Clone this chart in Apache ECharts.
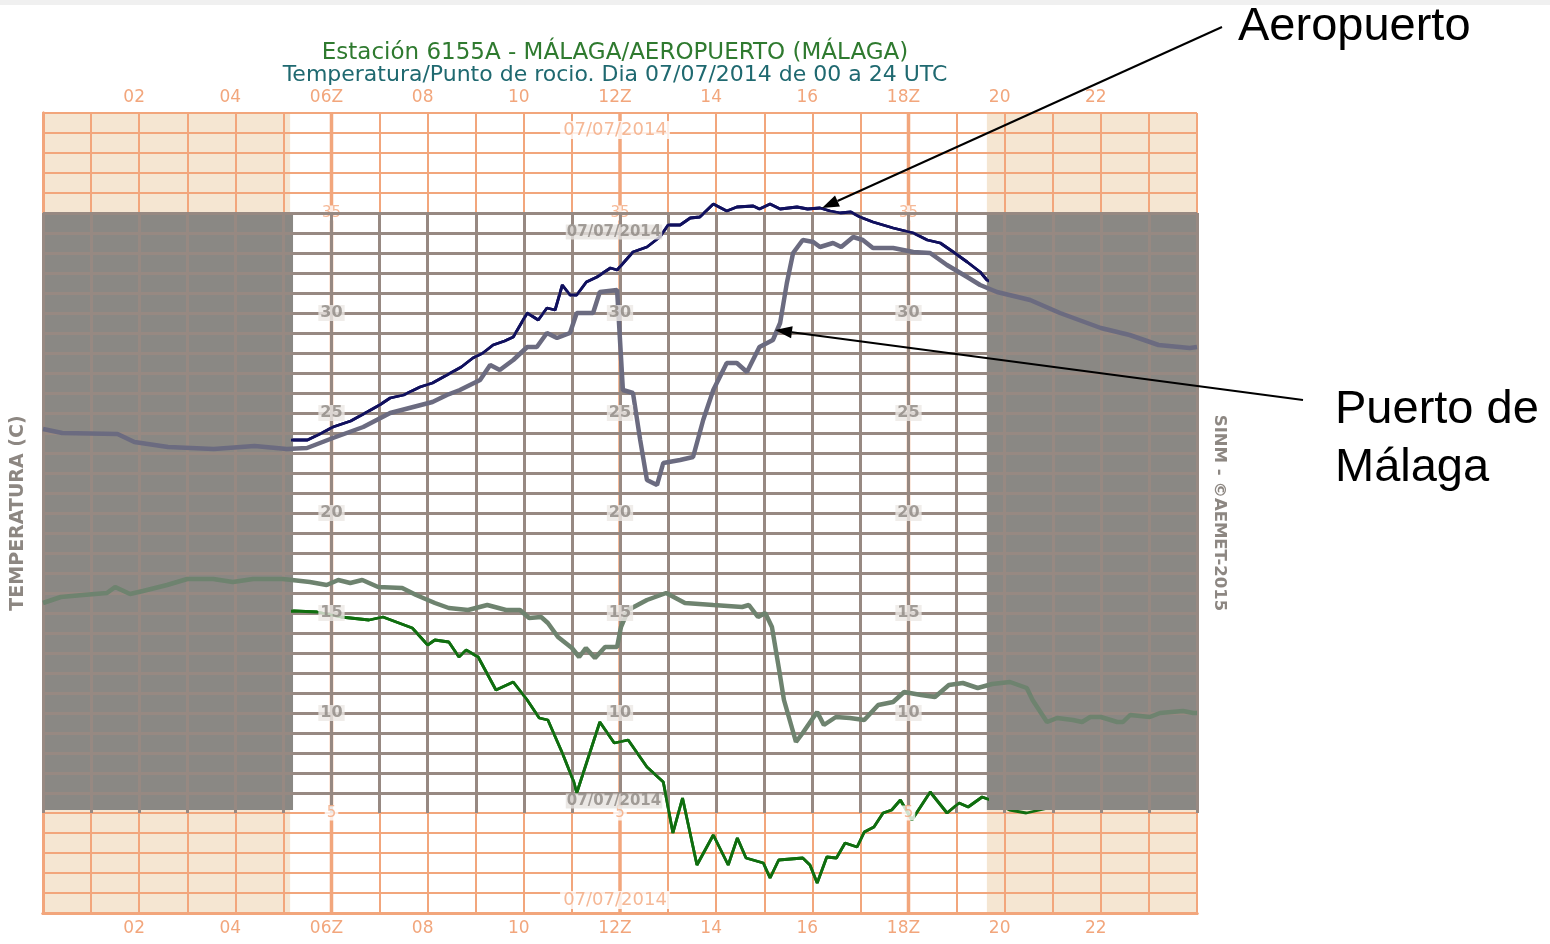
<!DOCTYPE html>
<html>
<head>
<meta charset="utf-8">
<title>Málaga 07/07/2014</title>
<script src="https://cdn.jsdelivr.net/npm/echarts@6/dist/echarts.min.js"></script>
<style>
html, body { margin: 0; padding: 0; background: #fff; }
#chart { width: 1550px; height: 944px; }
</style>
</head>
<body>
<div id="chart"></div>
<script>
// x axis: hours UTC, y axis: degrees C
const hourTicks = [2, 4, 6, 8, 10, 12, 14, 16, 18, 20, 22]
const hourLabels = ['02', '04', '06Z', '08', '10', '12Z', '14', '16', '18Z', '20', '22']
const synopHours = [6, 12, 18]
const nightSpans = [[0, 5.14], [19.63, 24]]
const overlayNight = [[0, 5.2], [19.63, 24]]
const overlayBottom = 5.15
const orangeTopTicks = [35]
const orangeBottomTicks = [5]
const grayTicks = [30, 25, 20, 15, 10]
const dateLabel = '07/07/2014'

// Aeropuerto (6155A)
const aeroTemp = [[0,24.2],[0.5,24.1],[1,24.0],[1.5,23.9],[2,23.8],[2.5,23.7],[3,23.6],[3.5,23.6],[4,23.5],[4.5,23.6],[5,23.6],
  [5.2,23.65],[5.5,23.65],[5.8,24.0],[6.03,24.3],[6.4,24.6],[6.74,25.05],[7.0,25.4],[7.22,25.75],[7.5,25.9],[7.84,26.3],
  [8.1,26.5],[8.4,26.9],[8.7,27.3],[8.94,27.75],[9.15,28.0],[9.36,28.4],[9.6,28.6],[9.78,28.8],[10.07,30.0],[10.3,29.65],
  [10.48,30.25],[10.65,30.15],[10.8,31.4],[10.96,30.9],[11.1,30.9],[11.3,31.55],[11.52,31.8],[11.8,32.25],[11.94,32.15],
  [12.27,33.05],[12.56,33.3],[12.83,33.8],[13.0,34.4],[13.25,34.4],[13.46,34.75],[13.66,34.8],[13.94,35.45],[14.22,35.1],
  [14.43,35.3],[14.77,35.35],[14.9,35.2],[15.12,35.45],[15.33,35.2],[15.68,35.3],[15.9,35.2],[16.16,35.25],[16.37,35.1],
  [16.58,35.0],[16.8,35.05],[16.99,34.8],[17.26,34.55],[17.68,34.25],[18.1,34.0],[18.39,33.65],[18.66,33.5],[18.93,33.05],
  [19.22,32.55],[19.49,32.05],[19.63,31.65],[20,31.2],[20.5,30.8],[21,30.2],[21.5,29.7],[22,29.3],[22.5,29.0],[23,28.6],
  [23.5,28.3],[24,28.2]]
const aeroDew = [[0,14.05],[0.5,14.2],[1,14.4],[1.5,14.5],[2,14.6],[2.5,14.7],[3,14.8],[3.5,14.85],[4,14.9],[4.5,15.0],[5,15.05],
  [5.22,15.1],[5.7,15.05],[6.2,14.8],[6.78,14.65],[7.07,14.8],[7.68,14.25],[8.0,13.4],[8.15,13.65],[8.44,13.55],[8.65,12.8],
  [8.8,13.15],[9.05,12.8],[9.42,11.15],[9.78,11.55],[10.07,10.65],[10.32,9.75],[10.5,9.65],[10.8,8.0],[11.04,6.55],[11.1,6.0],
  [11.58,9.55],[11.88,8.5],[12.17,8.65],[12.56,7.3],[12.9,6.55],[13.1,4.0],[13.3,5.75],[13.6,2.4],[13.94,3.9],[14.25,2.4],
  [14.44,3.75],[14.62,2.75],[14.98,2.5],[15.12,1.75],[15.3,2.65],[15.8,2.75],[15.95,2.4],[16.1,1.5],[16.3,2.8],[16.5,2.75],
  [16.68,3.5],[16.93,3.3],[17.08,4.05],[17.28,4.3],[17.47,5.0],[17.65,5.15],[17.83,5.65],[18.07,4.65],[18.45,6.05],[18.8,5.0],
  [19.05,5.5],[19.24,5.3],[19.53,5.8],[19.75,5.6],[20.1,5.15],[20.45,5.0],[20.73,5.15],[21.2,5.4],[21.8,5.6],[22.4,5.5],
  [23,5.8],[23.6,5.9],[24,6.0]]

// Puerto de Málaga
const portTemp = [[0,24.2],[0.4,24.0],[1.55,23.95],[1.9,23.55],[2.6,23.3],[3.55,23.2],[4.4,23.35],[5.07,23.2],[5.49,23.25],
  [6.03,23.75],[6.66,24.3],[7.22,25.0],[7.7,25.3],[8.1,25.55],[8.4,25.9],[8.67,26.15],[9.09,26.65],[9.3,27.4],[9.5,27.15],
  [9.78,27.65],[10.07,28.3],[10.27,28.3],[10.48,29.0],[10.69,28.75],[10.96,29.0],[11.1,30.0],[11.44,30.0],[11.58,31.05],
  [11.94,31.15],[12.06,26.15],[12.27,26.0],[12.42,23.65],[12.56,21.65],[12.77,21.4],[12.9,22.5],[13.25,22.65],[13.52,22.8],
  [13.73,24.65],[13.94,26.15],[14.22,27.5],[14.43,27.5],[14.64,27.05],[14.9,28.3],[15.18,28.65],[15.33,29.5],[15.47,31.5],
  [15.6,33.0],[15.8,33.65],[16.02,33.55],[16.16,33.3],[16.43,33.5],[16.6,33.3],[16.85,33.8],[17.05,33.65],[17.26,33.25],
  [17.68,33.25],[18.1,33.05],[18.45,33.0],[18.8,32.4],[19.22,31.8],[19.49,31.4],[19.84,31.05],[20.53,30.65],[21.15,30.0],
  [22.0,29.25],[22.6,28.9],[23.2,28.4],[23.85,28.25],[24,28.3]]
const portDew = [[0,15.5],[0.37,15.8],[0.83,15.9],[1.33,16.0],[1.5,16.3],[1.81,15.95],[2.08,16.1],[2.58,16.4],[3.0,16.7],
  [3.54,16.7],[3.95,16.55],[4.37,16.7],[4.99,16.7],[5.55,16.55],[5.9,16.4],[6.14,16.65],[6.39,16.5],[6.64,16.65],[6.97,16.3],
  [7.47,16.25],[7.76,15.9],[8.15,15.5],[8.44,15.25],[8.84,15.15],[9.24,15.4],[9.63,15.15],[9.92,15.15],[10.11,14.75],
  [10.36,14.8],[10.5,14.5],[10.71,13.8],[11.0,13.25],[11.15,12.8],[11.29,13.25],[11.48,12.75],[11.69,13.3],[11.94,13.3],
  [12.02,14.3],[12.17,15.15],[12.56,15.65],[12.96,16.0],[13.35,15.5],[13.94,15.4],[14.54,15.3],[14.68,15.4],[14.87,14.8],
  [15.02,15.0],[15.16,14.3],[15.31,12.15],[15.41,10.65],[15.66,8.55],[15.8,9.0],[16.1,10.05],[16.24,9.4],[16.49,9.8],
  [16.78,9.75],[17.08,9.65],[17.37,10.4],[17.68,10.55],[17.91,11.05],[18.26,10.9],[18.55,10.8],[18.84,11.4],[19.13,11.5],
  [19.44,11.25],[19.74,11.45],[20.11,11.55],[20.46,11.25],[20.58,10.65],[20.88,9.55],[21.09,9.75],[21.42,9.65],[21.61,9.55],
  [21.78,9.8],[22.0,9.8],[22.34,9.55],[22.46,9.55],[22.61,9.9],[23.02,9.8],[23.23,10.0],[23.71,10.1],[23.92,10.0],[24,10.0]]

const ORANGE = '#f2a67c', BEIGE = '#f5e6d2', GRAYLINE = '#978982', GRAYBLOCK = '#8a8884', GRAYTEXT = '#8d8782'
const FONT = '"DejaVu Sans", sans-serif'

const chart = echarts.init(document.getElementById('chart'))

function arrow(x1, y1, x2, y2) {
  const dx = x2 - x1, dy = y2 - y1, len = Math.hypot(dx, dy)
  const ux = dx / len, uy = dy / len, L = 17, W = 6
  const bx = x2 - ux * L, by = y2 - uy * L
  return [
    { type: 'line', shape: { x1, y1, x2: bx, y2: by }, style: { stroke: '#000', lineWidth: 2 }, z: 100 },
    { type: 'polygon', shape: { points: [[x2, y2], [bx - uy * W, by + ux * W], [bx + uy * W, by - ux * W]] },
      style: { fill: '#000' }, z: 100 }
  ]
}

const hourLabel = v => { const i = hourTicks.indexOf(v); return i >= 0 ? hourLabels[i] : '' }
const lineSeries = (name, data, color, width, xi, yi, z) => ({
  name, type: 'line', data, xAxisIndex: xi, yAxisIndex: yi, z, showSymbol: false, symbol: 'none',
  clip: true, lineStyle: { color, width }, silent: true
})
const orangeTickSeries = (ticks, z) => ({
  type: 'scatter', xAxisIndex: 0, yAxisIndex: 0, z, silent: true, symbolSize: 1,
  itemStyle: { color: 'transparent' },
  data: synopHours.flatMap(h => ticks.map(v => [h, v])),
  label: { show: true, position: 'inside', formatter: p => String(p.value[1]), color: ORANGE, fontSize: 15,
    fontFamily: FONT, backgroundColor: '#fff', padding: [0, 2] }
})

chart.setOption({
  animation: false,
  backgroundColor: '#fff',
  grid: [
    { left: 43, top: 113, width: 1154, height: 800 },
    { left: 43, top: 213, width: 1154, height: 600 },
    { left: 293, top: 113, width: 694, height: 800 }
  ],
  xAxis: [
    { gridIndex: 0, type: 'value', min: 0, max: 24, interval: 1, position: 'bottom', z: 2,
      axisLine: { show: true, lineStyle: { color: ORANGE, width: 3 } }, axisTick: { show: false },
      axisLabel: { formatter: hourLabel, color: ORANGE, fontSize: 17, fontFamily: FONT, margin: 7, padding: [0, 10, 0, 0] },
      splitLine: { show: true, lineStyle: { color: ORANGE, width: 2 } } },
    { gridIndex: 0, type: 'value', min: 0, max: 24, interval: 1, position: 'top', z: 2,
      axisLine: { show: true, lineStyle: { color: ORANGE, width: 3 } }, axisTick: { show: false },
      axisLabel: { formatter: hourLabel, color: ORANGE, fontSize: 17, fontFamily: FONT, margin: 7, padding: [0, 10, 0, 0] },
      splitLine: { show: false } },
    { gridIndex: 1, type: 'value', min: 0, max: 24, interval: 1, z: 5,
      axisLine: { show: false }, axisTick: { show: false }, axisLabel: { show: false },
      splitLine: { show: true, lineStyle: { color: GRAYLINE, width: 3 } } },
    { gridIndex: 2, type: 'value', min: 5.2, max: 19.63, show: false }
  ],
  yAxis: [
    { gridIndex: 0, type: 'value', min: 0, max: 40, interval: 1, z: 2,
      axisLine: { show: true, lineStyle: { color: ORANGE, width: 3 } }, axisTick: { show: false }, axisLabel: { show: false },
      splitLine: { show: true, lineStyle: { color: ORANGE, width: 2 } },
      name: 'TEMPERATURA (C)', nameLocation: 'middle', nameGap: 15, nameRotate: 90,
      nameTextStyle: { color: GRAYTEXT, fontSize: 19, fontWeight: 'bold', fontFamily: FONT } },
    { gridIndex: 0, type: 'value', min: 0, max: 40, interval: 1, position: 'right', z: 2,
      axisLine: { show: true, lineStyle: { color: ORANGE, width: 3 } }, axisTick: { show: false }, axisLabel: { show: false },
      splitLine: { show: false },
      name: 'SINM - ©AEMET-2015', nameLocation: 'middle', nameGap: 14, nameRotate: -90,
      nameTextStyle: { color: GRAYTEXT, fontSize: 16.5, fontWeight: 'bold', fontFamily: FONT } },
    { gridIndex: 1, type: 'value', min: 5, max: 35, interval: 1, z: 5,
      axisLine: { show: false }, axisTick: { show: false }, axisLabel: { show: false },
      splitLine: { show: true, showMinLine: false, lineStyle: { color: GRAYLINE, width: 3 } } },
    { gridIndex: 2, type: 'value', min: 0, max: 40, show: false }
  ],
  series: [
    { type: 'custom', xAxisIndex: 0, yAxisIndex: 0, z: 1, silent: true, data: nightSpans,
      renderItem: (p, api) => {
        const a = api.coord([api.value(0), 40]), b = api.coord([api.value(1), 0])
        return { type: 'rect', shape: { x: a[0], y: a[1], width: b[0] - a[0], height: b[1] - a[1] }, style: { fill: BEIGE } }
      } },
    { type: 'custom', xAxisIndex: 0, yAxisIndex: 0, z: 1, silent: true, data: synopHours.map(h => [h]),
      renderItem: (p, api) => {
        const a = api.coord([api.value(0), 40]), b = api.coord([api.value(0), 0])
        return { type: 'line', shape: { x1: a[0], y1: a[1], x2: b[0], y2: b[1] }, style: { stroke: ORANGE, lineWidth: 3.5 } }
      } },
    lineSeries('Aeropuerto T', aeroTemp, '#10105e', 2.8, 0, 0, 3),
    lineSeries('Aeropuerto Td', aeroDew, '#0f6e0f', 2.8, 0, 0, 3),
    orangeTickSeries(orangeTopTicks, 3),
    { type: 'scatter', xAxisIndex: 0, yAxisIndex: 0, z: 3, silent: true, symbolSize: 1,
      itemStyle: { color: 'transparent' }, data: [[12, 39.15], [12, 0.65]],
      label: { show: true, position: 'inside', offset: [-5, 0], formatter: dateLabel, color: ORANGE, fontSize: 18,
        fontFamily: FONT, backgroundColor: '#fff', padding: [0, 3] } },
    { type: 'custom', xAxisIndex: 2, yAxisIndex: 2, z: 4, silent: true, data: overlayNight,
      renderItem: (p, api) => {
        const a = api.coord([api.value(0), 35]), b = api.coord([api.value(1), overlayBottom])
        return { type: 'rect', shape: { x: a[0], y: a[1], width: b[0] - a[0], height: b[1] - a[1] }, style: { fill: GRAYBLOCK } }
      } },
    lineSeries('Aeropuerto T (día)', aeroTemp, '#10105e', 2.8, 3, 3, 6),
    lineSeries('Aeropuerto Td (día)', aeroDew, '#0f6e0f', 2.8, 3, 3, 6),
    orangeTickSeries(orangeBottomTicks, 6),
    lineSeries('Puerto T', portTemp, '#6b6b80', 4.5, 2, 2, 7),
    lineSeries('Puerto Td', portDew, '#6e836f', 4.5, 2, 2, 7),
    { type: 'scatter', xAxisIndex: 2, yAxisIndex: 2, z: 8, silent: true, symbolSize: 1,
      itemStyle: { color: 'transparent' },
      data: synopHours.flatMap(h => grayTicks.map(v => [h, v])),
      label: { show: true, position: 'inside', formatter: p => String(p.value[1]), color: GRAYTEXT, fontSize: 16,
        fontWeight: 'bold', fontFamily: FONT, backgroundColor: '#ece8e5', padding: [0, 2] } },
    { type: 'scatter', xAxisIndex: 2, yAxisIndex: 2, z: 8, silent: true, symbolSize: 1,
      itemStyle: { color: 'transparent' }, data: [[12, 34.05], [12, 5.6]],
      label: { show: true, position: 'inside', offset: [-6, 0], formatter: dateLabel, color: GRAYTEXT, fontSize: 15,
        fontWeight: 'bold', fontFamily: FONT, backgroundColor: '#e6e2df', padding: [0, 1] } }
  ],
  graphic: [
    { type: 'rect', shape: { x: 0, y: 0, width: 1550, height: 5 }, style: { fill: '#f0f0f0' } },
    { type: 'text', x: 615, y: 53, style: { text: 'Estación 6155A - MÁLAGA/AEROPUERTO (MÁLAGA)', fill: '#2f7a2f',
      font: '23px ' + FONT, align: 'center', verticalAlign: 'middle' } },
    { type: 'text', x: 615, y: 75, style: { text: 'Temperatura/Punto de rocio. Dia 07/07/2014 de 00 a 24 UTC', fill: '#1f6970',
      font: '22px ' + FONT, align: 'center', verticalAlign: 'middle' } },
    { type: 'text', x: 1238, y: 27, z: 100, style: { text: 'Aeropuerto', fill: '#000',
      font: '47px "Liberation Sans", Arial, sans-serif', align: 'left', verticalAlign: 'middle' } },
    { type: 'text', x: 1335, y: 410, z: 100, style: { text: 'Puerto de', fill: '#000',
      font: '47px "Liberation Sans", Arial, sans-serif', align: 'left', verticalAlign: 'middle' } },
    { type: 'text', x: 1335, y: 468, z: 100, style: { text: 'Málaga', fill: '#000',
      font: '47px "Liberation Sans", Arial, sans-serif', align: 'left', verticalAlign: 'middle' } },
    ...arrow(1222, 27, 822, 208),
    ...arrow(1303, 400, 775, 330)
  ]
})

window.addEventListener('resize', () => chart.resize())
</script>
</body>
</html>
